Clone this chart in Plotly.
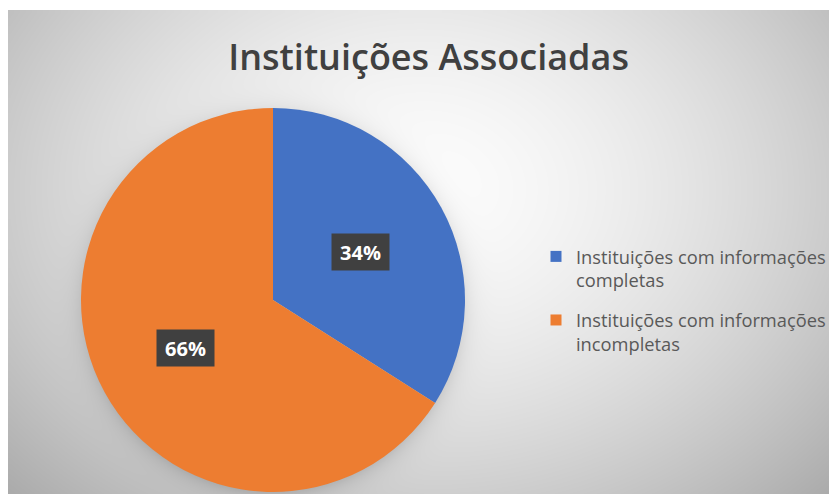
import math
import numpy as np
import plotly.graph_objects as go

# ---- data ----
title_text = "Instituições Associadas"
categories = ["Instituições com informações<br>completas",
              "Instituições com informações<br>incompletas"]
values = [34, 66]
colors = ["#4472C4", "#ED7D31"]

W, H = 829, 494
cx, cy, R = 273, 300, 192  # pie geometry in pixels

# ---- background gradient + pie shadow (style only) ----
xs = np.arange(10, W + 4, 4.0)
ys = np.arange(12, H + 4, 4.0)
X, Y = np.meshgrid(xs, ys)
dx = (X - 420) / 430
dy = (Y - 190) / 330
d = np.sqrt(dx ** 2 + dy ** 2)
bg = 252 - 52 * np.clip(d, 0, 1.4) ** 1.6
rr = np.sqrt((X - cx) ** 2 + (Y - (cy + 3)) ** 2)
shadow = np.where(rr > R - 4, 30 * np.exp(-np.clip(rr - R + 4, 0, None) / 10.0), 30)
Z = bg - shadow

fig = go.Figure()
fig.add_trace(go.Heatmap(
    x=xs, y=ys, z=Z, zmin=0, zmax=255, zsmooth="best",
    colorscale=[[0, "rgb(0,0,0)"], [1, "rgb(255,255,255)"]],
    showscale=False, hoverinfo="skip", showlegend=False))

fig.add_trace(go.Pie(
    labels=[c.replace("<br>", " ") for c in categories], values=values,
    sort=False, direction="clockwise",
    rotation=0, marker=dict(colors=colors, line=dict(width=0)),
    textinfo="none", hoverinfo="label+percent", showlegend=False,
    domain=dict(x=[(cx - R) / W, (cx + R) / W],
                y=[1 - (cy + R) / H, 1 - (cy - R) / H])))

# legend entries (one group per category, so the gap between them can be set)
for i, (lab, col) in enumerate(zip(categories, colors)):
    fig.add_trace(go.Scatter(
        x=[None], y=[None], mode="markers", name=lab, legendgroup="g%d" % i,
        marker=dict(symbol="square", size=11, color=col),
        showlegend=True, hoverinfo="skip"))

# data labels placed from the values
total = sum(values)
cum = 0
for v in values:
    mid = (cum + v / 2) / total * 2 * math.pi
    cum += v
    f = 0.52
    px = cx + R * f * math.sin(mid)
    py = cy - R * f * math.cos(mid)
    fig.add_annotation(
        x=px, y=py, xref="x", yref="y", showarrow=False,
        text="<b>%d%%</b>" % round(v / total * 100),
        font=dict(family="Open Sans", size=20, color="white"),
        bgcolor="#404040", borderpad=5, width=47, height=26)

fig.update_layout(
    width=W, height=H,
    margin=dict(l=0, r=0, t=0, b=0, autoexpand=False),
    paper_bgcolor="white", plot_bgcolor="white",
    xaxis=dict(range=[0, W], visible=False, fixedrange=True),
    yaxis=dict(range=[H, 0], visible=False, fixedrange=True),
    title=dict(text=title_text, x=0.517, xanchor="center", y=1 - 57 / H, yanchor="middle",
               font=dict(family="Open Sans", size=36, color="#404040", weight=600)),
    legend=dict(x=536 / W, y=1 - 238 / H, xanchor="left", yanchor="top",
                valign="top", bgcolor="rgba(0,0,0,0)", traceorder="grouped",
                font=dict(family="Open Sans", size=18.3, color="#595959"),
                tracegroupgap=13, itemwidth=30),
    showlegend=True,
)

fig.write_html("out.html", config={"displayModeBar": False},
               post_script="document.body.style.margin='0';document.body.style.overflow='hidden';")
